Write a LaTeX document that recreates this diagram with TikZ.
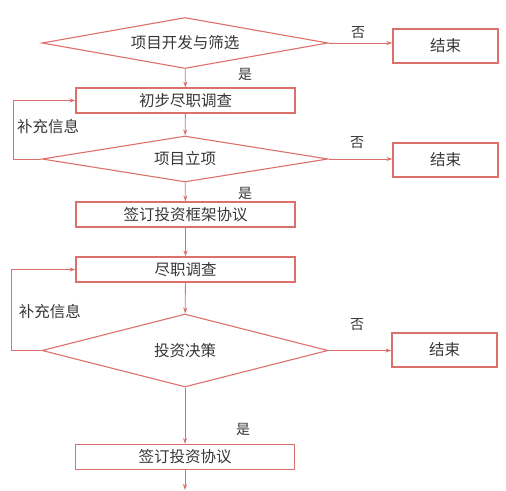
\documentclass[tikz,border=0pt]{standalone}
\usepackage{fontspec}
\newfontfamily\cjk{Noto Sans CJK SC}
\usetikzlibrary{shapes.geometric,arrows.meta}
\definecolor{flowred}{RGB}{222,112,108}
\definecolor{inkgray}{RGB}{55,55,55}
\tikzset{
    stepbox/.style={draw=flowred,line width=1.1pt,minimum width=219pt,minimum height=25pt,inner sep=0pt},
    endbox/.style={draw=flowred,line width=1.1pt,minimum width=105pt,minimum height=34pt,inner sep=0pt},
    choice/.style={diamond,draw=flowred,line width=1.1pt,aspect=5.6,inner sep=0pt,minimum width=286pt},
    flow/.style={draw=flowred,line width=0.8pt,-{Stealth[length=6pt,width=4pt]}},
    tag/.style={inkgray,font=\cjk\fontsize{14}{14}\selectfont}
}
\begin{document}
\begin{tikzpicture}[x=1pt,y=-1pt,every node/.append style={text=inkgray,font=\cjk\fontsize{15.5}{16}\selectfont}]
                \useasboundingbox (0,0) rectangle (506,490);
                \node[choice,minimum height=51pt] (d1) at (185,43) {项目开发与筛选};
                \node[stepbox] (b1) at (185.5,100.5) {初步尽职调查};
                \node[choice,minimum height=46pt] (d2) at (185,159) {项目立项};
                \node[stepbox] (b2) at (185.5,214.5) {签订投资框架协议};
                \node[stepbox] (b3) at (185.5,269.5) {尽职调查};
                \node[choice,minimum height=73pt] (d3) at (185,350.5) {投资决策};
                \node[stepbox] (b4) at (185,457) {签订投资协议};
                \node[endbox] (e1) at (445.5,46) {结束};
                \node[endbox] (e2) at (445.5,160) {结束};
                \node[endbox] (e3) at (444.5,350) {结束};
                \coordinate (fb1) at (13,98);
                \coordinate (fb2) at (11,267);
                \coordinate (out) at (185,490);
                % main line
                \draw[flow] (d1) -- (b1);
                \draw[flow] (b1) -- (d2);
                \draw[flow] (d2) -- (b2);
                \draw[flow] (b2) -- (b3);
                \draw[flow] (b3) -- (d3);
                \draw[flow] (d3) -- (b4);
                \draw[flow] (b4) -- (out);
                % no branches
                \foreach \d/\e in {d1/e1,d2/e2,d3/e3} {
                    \draw[flow] (\d.east) -- (\d.east -| \e.west);
                }
                % loops back
                \draw[flow] (d2.west) -- (d2.west -| fb1) |- (b1.west);
                \draw[flow] (d3.west) -- (d3.west -| fb2) |- (b3.west);
                \node[tag] (n1) at (358,33) {否};
                \node[tag] (n2) at (357,143) {否};
                \node[tag] (n3) at (357,325) {否};
                \node[tag] (y1) at (245,74) {是};
                \node[tag] (y2) at (245,193) {是};
                \node[tag] (y3) at (243,429) {是};
                \node[tag,font=\cjk\fontsize{15.5}{16}\selectfont] (s1) at (48,127) {补充信息};
                \node[tag,font=\cjk\fontsize{15.5}{16}\selectfont] (s2) at (50,312) {补充信息};
\end{tikzpicture}
\end{document}
